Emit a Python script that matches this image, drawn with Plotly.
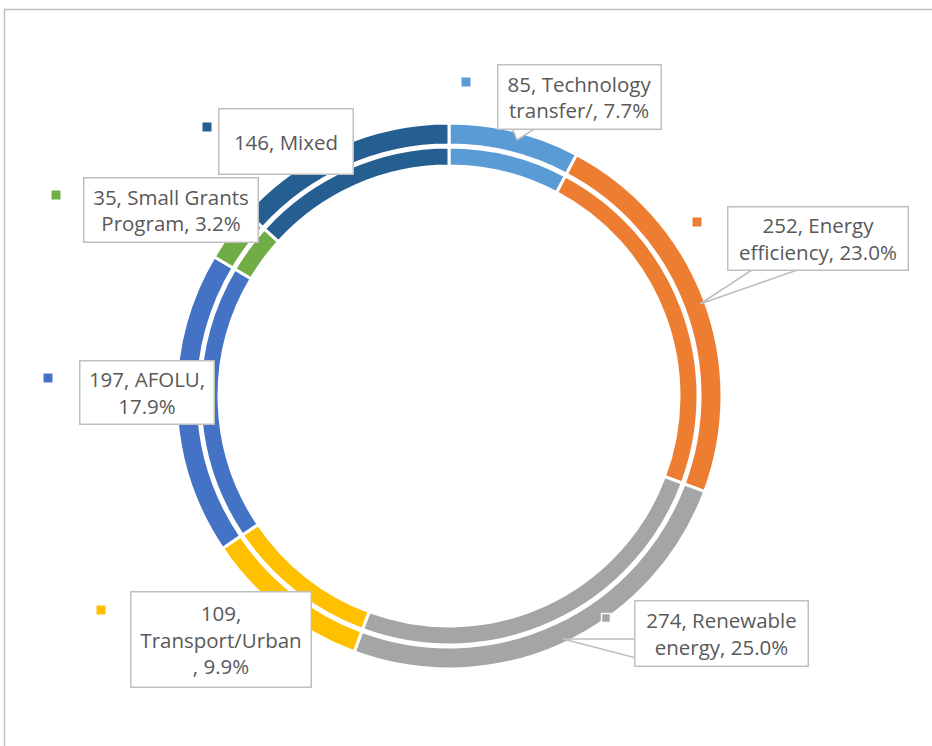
import plotly.graph_objects as go

# data
categories = ["Technology transfer/", "Energy efficiency", "Renewable energy",
              "Transport/Urban", "AFOLU", "Small Grants Program", "Mixed"]
counts = [85, 252, 274, 109, 197, 35, 146]
label_texts = [
    "85, Technology<br>transfer/, 7.7%",
    "252, Energy<br>efficiency, 23.0%",
    "274, Renewable<br>energy, 25.0%",
    "109,<br>Transport/Urban<br>, 9.9%",
    "197, AFOLU,<br>17.9%",
    "35, Small Grants<br>Program, 3.2%",
    "146, Mixed",
]
colors = ["#5B9BD5", "#ED7D31", "#A5A5A5", "#FFC000", "#4472C4", "#70AD47", "#255E91"]

W, H = 932, 746


def px(x):
    return x / W


def py(y):
    return 1 - y / H


def path(points):
    return "M " + " L ".join(f"{px(x):.5f},{py(y):.5f}" for x, y in points)


# ring geometry (pixels)
cx, cy = 449, 396
r_out, r_in = 273, 249

fig = go.Figure()

fig.add_trace(go.Pie(
    labels=categories, values=counts, sort=False, direction="clockwise",
    hole=251 / r_out, textinfo="none", hoverinfo="label+value+percent",
    marker=dict(colors=colors, line=dict(color="white", width=3)),
    domain=dict(x=[px(cx - r_out), px(cx + r_out)], y=[py(cy + r_out), py(cy - r_out)]),
    showlegend=False,
))
fig.add_trace(go.Pie(
    labels=categories, values=counts, sort=False, direction="clockwise",
    hole=230 / r_in, textinfo="none", hoverinfo="label+value+percent",
    marker=dict(colors=colors, line=dict(color="white", width=3)),
    domain=dict(x=[px(cx - r_in), px(cx + r_in)], y=[py(cy + r_in), py(cy - r_in)]),
    showlegend=False,
))

# label boxes: (box center x, y, width, height, key square x, y)
boxes = [
    (579, 97, 165, 66, 466, 82),
    (818, 238, 182, 65, 697, 222),
    (721, 633, 175, 67, 606, 618),
    (221, 639, 182, 97, 101, 610),
    (147, 392, 136, 65, 48, 378),
    (171, 210, 176, 66, 56, 195),
    (286, 141, 136, 67, 207, 127),
]

# callout wedges from the boxes to their slices
callouts = [
    [(512, 128), (517, 140), (536, 128)],
    [(755, 268), (700, 304), (803, 268)],
    [(640, 639), (563, 639), (640, 659)],
]
for pts in callouts:
    fig.add_shape(type="path", xref="paper", yref="paper", path=path(pts),
                  line=dict(color="#BFBFBF", width=1.5), fillcolor="white", layer="above")

font = dict(family="Open Sans, Noto Sans, sans-serif", size=20.5, color="#595959")

for i, (bx, by, bw, bh, sx, sy) in enumerate(boxes):
    fig.add_annotation(
        x=px(bx), y=py(by), showarrow=False,
        text=label_texts[i], font=font, align="center",
        bgcolor="white", bordercolor="#BFBFBF", borderwidth=1.5, borderpad=0,
        width=bw - 3, height=bh - 3, xref="paper", yref="paper",
        xanchor="center", yanchor="middle",
    )
    # small legend key square
    line = dict(color="white", width=1.5) if i == 2 else dict(width=0)
    fig.add_shape(type="rect", xref="paper", yref="paper",
                  x0=px(sx - 4.5), x1=px(sx + 4.5), y0=py(sy + 4.5), y1=py(sy - 4.5),
                  fillcolor=colors[i], line=line, layer="above")

# chart area border
fig.add_shape(type="rect", xref="paper", yref="paper",
              x0=px(4.5), x1=px(945), y0=py(760), y1=py(9.5),
              line=dict(color="#BFBFBF", width=1.5), fillcolor="rgba(0,0,0,0)", layer="below")

fig.update_layout(
    width=W, height=H,
    margin=dict(l=0, r=0, t=0, b=0),
    paper_bgcolor="white", plot_bgcolor="white",
    showlegend=False,
)

fig.write_html("out.html", config={"displayModeBar": False},
               post_script="document.body.style.margin='0';document.body.style.overflow='hidden';")
